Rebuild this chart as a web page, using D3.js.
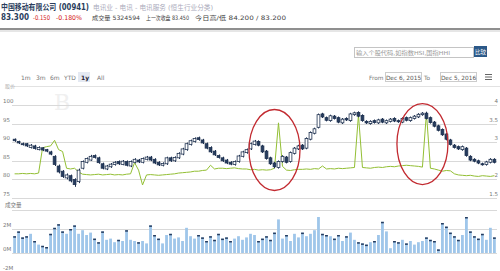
<!DOCTYPE html>
<html>
<head>
<meta charset="utf-8">
<script src="https://cdn.jsdelivr.net/npm/d3@7"></script>
<style>
  body { margin: 0; background: #fff; }
  svg { display: block; font-family: "DejaVu Sans", "Noto Sans CJK SC", sans-serif; }
</style>
</head>
<body>
<svg width="500" height="271"></svg>
<script>
// daily candles, Dec 6 2015 - Dec 5 2016 (one per ~2 trading days)
const open = [90.8,90.2,89.6,89.6,88.6,89.0,88.0,88.5,88.0,87.4,86.2,83.6,82.2,80.4,81.0,80.0,79.4,83.0,84.6,85.2,
  86.4,85.8,84.2,82.8,83.4,84.0,84.8,84.0,84.8,83.6,84.6,85.2,84.6,85.4,86.0,85.4,84.6,83.8,84.2,85.8,
  85.0,85.8,86.8,88.0,89.4,90.2,91.2,90.6,89.6,88.6,87.6,86.4,85.8,85.2,84.6,84.0,84.8,86.2,87.2,88.2,
  89.4,90.2,89.0,87.6,85.8,84.4,83.2,84.8,86.0,84.8,87.0,88.2,89.2,88.4,90.8,92.4,94.0,97.6,96.6,95.8,
  97.0,96.6,95.2,96.4,95.8,97.4,98.0,97.2,95.6,95.0,95.8,95.2,96.2,95.2,95.6,96.4,95.8,95.4,96.6,95.8,
  96.4,96.8,97.4,97.8,96.6,95.4,94.4,93.4,92.2,90.6,89.2,88.8,88.0,88.4,86.2,85.4,85.0,84.2,84.0,84.6,85.4];
const close = [90.4,89.8,89.4,89.0,89.2,88.3,88.6,87.9,87.6,86.8,84.0,82.0,80.8,81.2,79.6,78.6,82.5,84.8,85.6,86.2,
  85.9,84.5,83.0,83.6,84.1,84.6,84.2,84.9,83.8,84.8,85.4,84.7,85.6,86.0,85.2,84.4,83.9,84.3,85.8,85.0,
  85.9,87.0,88.2,89.6,90.4,91.0,90.7,89.8,88.4,87.4,86.6,85.9,85.0,84.4,84.1,84.8,86.3,87.4,88.0,89.6,
  90.3,89.2,87.4,85.6,84.2,83.4,84.8,86.2,84.6,87.2,88.4,89.0,88.2,91.0,92.6,93.6,97.4,96.8,95.9,97.1,
  96.4,95.4,96.2,96.0,97.6,97.9,97.0,95.8,95.2,95.6,95.3,96.0,95.4,95.8,96.2,95.7,95.5,96.4,95.9,96.6,
  97.0,97.5,97.8,96.4,95.3,94.3,93.2,92.0,90.8,89.4,88.6,88.2,88.8,86.4,85.2,84.9,84.4,84.0,84.7,85.4,84.6];
const high = [91.0,90.4,89.9,89.8,89.5,89.3,88.9,88.7,88.2,87.7,86.5,84.0,82.5,81.6,81.3,80.3,82.9,85.1,85.9,86.6,
  86.7,86.1,84.5,83.9,84.4,84.9,85.1,85.2,85.1,85.1,85.7,85.5,85.9,86.3,86.3,85.7,84.9,84.6,86.1,86.1,
  86.2,87.3,88.5,89.9,90.7,91.3,91.5,90.9,89.9,88.9,87.9,86.7,86.1,85.5,84.9,85.1,86.6,87.7,88.3,89.9,
  90.6,90.5,89.3,87.9,86.1,84.7,85.1,86.5,86.3,87.5,88.7,89.3,89.5,91.3,92.9,93.9,97.7,97.9,96.9,97.4,
  97.3,96.9,96.5,96.7,97.9,98.2,98.3,97.5,95.9,95.9,96.1,96.3,96.5,96.1,96.5,96.7,96.1,96.7,96.9,96.9,
  97.3,97.8,98.1,98.2,96.9,95.7,94.7,93.7,92.5,90.9,89.5,89.1,89.1,88.7,86.5,85.7,85.3,84.5,85.0,85.7,85.7];
const low = [90.1,89.5,89.1,88.7,88.3,88.0,87.8,87.6,87.3,86.5,83.6,81.6,80.4,80.0,79.2,78.0,79.0,82.7,84.3,85.0,
  85.6,84.2,82.7,82.5,83.1,83.7,83.9,83.8,83.5,83.3,84.3,84.4,84.3,85.1,84.9,84.1,83.6,83.5,83.9,84.7,
  84.7,85.5,86.5,87.7,89.1,89.9,90.4,89.5,88.1,87.1,86.3,85.6,84.7,84.1,83.8,83.7,84.5,85.9,86.9,87.9,
  89.1,88.9,87.1,85.3,83.9,83.0,82.9,84.5,84.3,84.5,86.7,87.9,87.9,88.1,90.5,92.1,93.7,96.5,95.6,95.5,
  96.1,95.1,94.9,95.7,95.5,97.1,96.7,95.5,94.9,94.7,95.0,94.9,95.1,94.9,95.3,95.4,95.2,95.1,95.6,95.5,
  96.1,96.5,97.1,96.1,95.0,94.0,92.9,91.7,90.5,89.1,88.3,87.9,87.7,86.1,84.9,84.6,84.1,83.7,83.7,84.3,84.3];
// green line on the right axis
const ratio = [2.15,2.15,2.16,2.15,2.16,2.15,2.17,2.85,2.88,2.9,3.05,2.8,2.75,2.3,2.28,2.3,2.2,2.14,2.13,2.12,
  2.13,2.14,2.12,2.13,2.14,2.12,2.13,2.12,2.14,2.15,2.45,2.25,1.85,2.12,2.13,2.12,2.11,2.12,2.13,2.14,
  2.15,2.17,2.18,2.19,2.2,2.22,2.22,2.24,2.25,2.38,2.28,2.3,2.3,2.29,2.3,2.31,2.29,2.28,2.28,2.26,
  2.27,2.25,2.26,2.25,2.26,2.3,3.52,2.35,2.25,2.24,2.26,2.27,2.27,2.28,2.27,2.29,2.28,2.36,2.28,2.29,
  2.28,2.3,2.29,2.3,2.31,2.32,3.73,2.32,2.31,2.3,2.32,2.33,2.32,2.34,2.35,2.34,2.36,2.37,2.38,2.37,
  2.36,2.35,2.33,3.78,2.3,2.28,2.25,2.22,2.24,2.23,2.15,2.12,2.11,2.1,2.11,2.09,2.08,2.1,2.09,2.08,2.1];
// volume in millions
const volume = [1.4,1.8,1.3,1.4,1.6,1.0,0.7,0.6,0.5,1.6,2.1,2.4,1.8,1.6,2.0,2.3,1.6,1.9,1.5,1.7,
  1.2,0.9,1.8,1.1,1.2,0.9,1.1,1.0,1.9,1.1,1.0,0.9,1.0,0.8,2.3,1.5,1.2,0.8,1.5,1.6,
  1.2,1.3,1.0,2.1,1.4,1.2,1.5,1.3,1.0,1.4,1.1,1.6,1.2,1.3,1.0,1.2,1.4,1.1,1.3,1.6,
  1.5,1.0,1.2,1.4,1.1,1.7,2.8,1.2,1.5,1.0,1.6,1.3,1.7,1.4,1.6,1.9,3.0,1.6,1.5,1.4,
  1.2,1.5,1.0,1.4,1.7,1.1,0.9,0.8,0.7,0.9,1.0,1.5,2.6,1.8,0.4,1.0,0.9,1.1,0.8,1.0,
  0.7,0.9,1.0,1.3,1.1,1.0,0.3,2.5,2.2,1.7,1.4,1.1,1.5,3.0,1.8,1.4,1.2,1.6,1.1,2.1,1.3];

const priceTicks = [100, 95, 90, 85, 80, 75];
const ratioTicks = ["4", "3.5", "3", "", "2", "1.5"];
const volTicks = [2, 0, -2];
const ranges = ["1m", "3m", "6m", "YTD", "1y", "All"];
// circled spikes: candle index and price at centre
const circles = [{i: 65, p: 87.9}, {i: 102, p: 89.5}];

const svg = d3.select("svg");
const idx = d3.range(close.length);
const x = d3.scaleBand().domain(idx).range([12, 497]).padding(0.3);
const yL = d3.scaleLinear().domain([75, 100]).range([198, 105]);
const yR = d3.scaleLinear().domain([1.5, 4]).range([198, 105]);
const yV = d3.scaleLinear().domain([0, 2]).range([253, 229]);
const cx = i => x(i) + x.bandwidth() / 2;

function label(txt, x0, y0, size, w, color, bold) {
  return svg.append("text").attr("x", x0).attr("y", y0).attr("font-size", size)
    .attr("fill", color).attr("font-weight", bold ? "bold" : null)
    .attr("textLength", w).attr("lengthAdjust", "spacingAndGlyphs").text(txt);
}

// ---- header
label("中国移动有限公司 (00941)", 1, 9.5, 8, 88, "#2a3d5c", true);
label("电讯业 - 电讯 - 电讯服务 (恒生行业分类)", 93, 9.5, 6.5, 120, "#aab");
label("83.300", 1, 20, 8.5, 28, "#2a3d5c", true);
label("-0.150", 33, 20, 6.5, 17, "#d42020");
label("-0.180%", 56, 20, 6.5, 26, "#d42020");
label("成交量 5324594", 92, 20, 6, 48, "#444");
label("上一次收盘 83.450", 146, 20, 6, 43, "#444");
label("今日高/低 84.200 / 83.200", 195, 20, 6, 91, "#444");
svg.append("rect").attr("x", 0).attr("y", 28).attr("width", 500).attr("height", 2).attr("fill", "#8f8f8f");
svg.append("rect").attr("x", 0).attr("y", 30).attr("width", 500).attr("height", 2).attr("fill", "#e6e6e6");

// compare box
svg.append("rect").attr("x", 354.5).attr("y", 47.5).attr("width", 119).attr("height", 10)
  .attr("fill", "#fff").attr("stroke", "#c4c4c4");
label("输入个股代码,如指数HSI,国指HHI", 356, 55, 5.6, 94, "#999");
svg.append("rect").attr("x", 474).attr("y", 46).attr("width", 13).attr("height", 11).attr("fill", "#2b5888");
svg.append("text").attr("x", 480.5).attr("y", 54).attr("font-size", 5.5).attr("fill", "#fff")
  .attr("text-anchor", "middle").text("比较");

// range selector
const rx = [21, 36, 50, 64, 81, 97];
svg.append("rect").attr("x", 78).attr("y", 72).attr("width", 12).attr("height", 10).attr("fill", "#e4e9f2");
svg.selectAll("text.rng").data(ranges).join("text").attr("class", "rng")
  .attr("x", (d, i) => rx[i]).attr("y", 79.5).attr("font-size", 6)
  .attr("fill", d => d === "1y" ? "#223" : "#777").attr("font-weight", d => d === "1y" ? "bold" : null)
  .text(d => d);
svg.append("text").attr("x", 369).attr("y", 79.5).attr("font-size", 5.8).attr("fill", "#777").text("From");
svg.append("text").attr("x", 424).attr("y", 79.5).attr("font-size", 5.8).attr("fill", "#777").text("To");
[[385.5, "Dec 6, 2015"], [440.5, "Dec 5, 2016"]].forEach(d => {
  svg.append("rect").attr("x", d[0]).attr("y", 72.5).attr("width", 36).attr("height", 9)
    .attr("fill", "#fff").attr("stroke", "#ccc");
  svg.append("text").attr("x", d[0] + 18).attr("y", 79.5).attr("font-size", 5.8).attr("fill", "#555")
    .attr("text-anchor", "middle").text(d[1]);
});
[74.5, 77, 79.5].forEach(y => {
  svg.append("line").attr("x1", 485).attr("x2", 492).attr("y1", y).attr("y2", y)
    .attr("stroke", "#666").attr("stroke-width", 1);
});
svg.append("line").attr("x1", 12).attr("x2", 500).attr("y1", 86.5).attr("y2", 86.5).attr("stroke", "#e2e2e2");
svg.append("text").attr("x", 5).attr("y", 88).attr("font-size", 5).attr("fill", "#aaa").text("股价");

// watermark
svg.append("text").attr("x", 62).attr("y", 110).attr("font-size", 22).attr("font-family", "DejaVu Serif")
  .attr("fill", "#f0f0f0").attr("text-anchor", "middle").text("B");

// ---- price grid and axes
svg.append("g").selectAll("line").data(priceTicks).join("line")
  .attr("x1", 12).attr("x2", 497).attr("y1", d => Math.round(yL(d)) + 0.5).attr("y2", d => Math.round(yL(d)) + 0.5)
  .attr("stroke", "#d9d9d9");
svg.append("g").selectAll("text").data(priceTicks).join("text")
  .attr("x", 3).attr("y", d => yL(d) - 2).attr("font-size", 5.5).attr("fill", "#777").text(d => d);
svg.append("g").selectAll("text").data(ratioTicks).join("text")
  .attr("x", 498).attr("y", (d, i) => yL(priceTicks[i]) - 2).attr("text-anchor", "end")
  .attr("font-size", 5.5).attr("fill", "#777").text(d => d);

// green line
const line = d3.line().x((d, i) => cx(i)).y(d => yR(d));
svg.append("path").attr("d", line(ratio)).attr("fill", "none")
  .attr("stroke", "#93bf34").attr("stroke-width", 1);

// candles
const candles = svg.append("g").selectAll("g").data(idx).join("g");
candles.append("line")
  .attr("x1", i => Math.round(cx(i)) + 0.5).attr("x2", i => Math.round(cx(i)) + 0.5)
  .attr("y1", i => yL(high[i])).attr("y2", i => yL(low[i]))
  .attr("stroke", "#1e3150");
candles.append("rect")
  .attr("x", i => x(i)).attr("width", x.bandwidth())
  .attr("y", i => yL(Math.max(open[i], close[i])))
  .attr("height", i => Math.max(1, Math.abs(yL(open[i]) - yL(close[i]))))
  .attr("fill", i => close[i] >= open[i] ? "#fff" : "#263c5e")
  .attr("stroke", "#1e3150").attr("stroke-width", 0.8);

// circles
svg.append("g").selectAll("ellipse").data(circles).join("ellipse")
  .attr("cx", d => cx(d.i)).attr("cy", d => yL(d.p)).attr("rx", 25.5).attr("ry", 40.5)
  .attr("fill", "none").attr("stroke", "#c22a30").attr("stroke-width", 1.3);

// ---- volume panel
svg.append("line").attr("x1", 12).attr("x2", 497).attr("y1", 210.5).attr("y2", 210.5).attr("stroke", "#d9d9d9");
svg.append("text").attr("x", 5).attr("y", 207).attr("font-size", 5.5).attr("fill", "#777").text("成交量");
svg.append("g").selectAll("line").data(volTicks).join("line")
  .attr("x1", 12).attr("x2", 497).attr("y1", d => Math.round(yV(d)) + 0.5).attr("y2", d => Math.round(yV(d)) + 0.5)
  .attr("stroke", "#d9d9d9");
svg.append("g").selectAll("text").data(volTicks).join("text")
  .attr("x", 3).attr("y", d => Math.min(yV(d) - 2, 270)).attr("font-size", 5.5).attr("fill", "#777")
  .text(d => d + "M");

const bars = svg.append("g").selectAll("g").data(idx).join("g");
bars.append("rect")
  .attr("x", i => x(i)).attr("width", x.bandwidth())
  .attr("y", i => yV(volume[i])).attr("height", i => yV(0) - yV(volume[i]))
  .attr("fill", "#9fc6ea");
bars.filter(i => close[i] < open[i]).append("rect")
  .attr("x", i => x(i)).attr("width", x.bandwidth())
  .attr("y", i => yV(volume[i])).attr("height", 1.5).attr("fill", "#263c5e");
</script>
</body>
</html>
